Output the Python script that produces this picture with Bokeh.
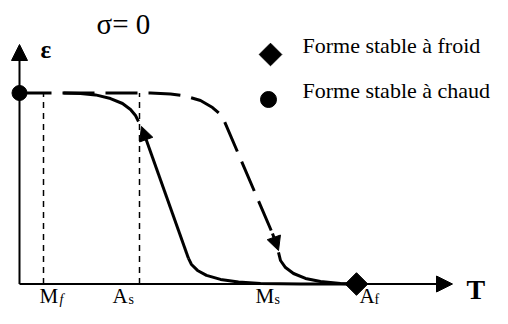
import numpy as np
from bokeh.plotting import figure
from bokeh.models import Range1d, Arrow, NormalHead, ColumnDataSource
from bokeh.core.properties import value
from bokeh.embed import file_html
from bokeh.resources import INLINE

# ---------------- data (T in arbitrary units, strain normalised) ----------------
temp_names = ["M", "A", "M", "A"]
temp_subs = ["f", "s", "s", "f"]
temp_values = [24, 120, 229, 337]
eps_top = 1.0

heat_upper_T = [44, 61, 76, 91, 103, 111, 116, 119]
heat_upper_eps = [1.0, 0.997, 0.990, 0.971, 0.945, 0.914, 0.882, 0.851]
heat_arrow_T = [169, 122]
heat_arrow_eps = [0.134, 0.825]
heat_lower_T = [169, 172, 178, 187, 201, 219, 241, 281, 337]
heat_lower_eps = [0.134, 0.102, 0.071, 0.045, 0.024, 0.011, 0.003, 0.0, 0.0]

cool_T = [0, 131, 151, 166, 181, 193, 201, 205, 253]
cool_eps = [1.0, 1.0, 0.995, 0.984, 0.961, 0.924, 0.887, 0.851, 0.264]
cool_arrow_T = [253, 259]
cool_arrow_eps = [0.264, 0.175]
cool_lower_T = [259, 261, 266, 274, 286, 301, 321, 337]
cool_lower_eps = [0.165, 0.123, 0.086, 0.055, 0.029, 0.013, 0.003, 0.0]

axis_T_end = 433
axis_eps_end = 1.254

legend_labels = ["Forme stable à froid", "Forme stable à chaud"]

# ---------------- layout helpers (pixel -> data) ----------------
def tx(X):
    return X - 19

def ey(Y):
    return (283.5 - Y) / 191.0

def mid(baseline, fs):
    # vertical middle of the text box for a given alphabetic baseline
    return ey(baseline - 0.3375 * fs)

FONT = value("Liberation Serif")

p = figure(width=492, height=308,
           x_range=Range1d(tx(0), tx(492)), y_range=Range1d(ey(308), ey(0)),
           x_axis_type=None, y_axis_type=None,
           output_backend="svg", toolbar_location=None, min_border=0)
p.grid.visible = False
p.outline_line_color = None
p.background_fill_color = "white"
p.border_fill_color = "white"

# axes with arrows
p.add_layout(Arrow(end=NormalHead(size=16, fill_color="black", line_color="black", line_width=1),
                   x_start=0, y_start=0, x_end=axis_T_end, y_end=0,
                   line_width=2, line_color="black"))
p.add_layout(Arrow(end=NormalHead(size=16, fill_color="black", line_color="black", line_width=1),
                   x_start=0, y_start=0, x_end=0, y_end=axis_eps_end,
                   line_width=2, line_color="black"))

# dashed verticals at Mf and As
p.segment(x0=temp_values[:2], y0=[0, 0], x1=temp_values[:2], y1=[eps_top, eps_top],
          line_color="black", line_width=1.5, line_dash="6 5")

# cooling (dashed) branch
p.line(cool_T, cool_eps, line_color="black", line_width=3, line_dash="32 11")
p.add_layout(Arrow(end=NormalHead(size=14, fill_color="black", line_color="black", line_width=1),
                   x_start=cool_arrow_T[0], y_start=cool_arrow_eps[0],
                   x_end=cool_arrow_T[1], y_end=cool_arrow_eps[1],
                   line_width=3, line_color="black"))
p.line(cool_lower_T, cool_lower_eps, line_color="black", line_width=3)

# heating (solid) branch
p.line(heat_upper_T, heat_upper_eps, line_color="black", line_width=3)
p.add_layout(Arrow(end=NormalHead(size=14, fill_color="black", line_color="black", line_width=1),
                   x_start=heat_arrow_T[0], y_start=heat_arrow_eps[0],
                   x_end=heat_arrow_T[1], y_end=heat_arrow_eps[1],
                   line_width=3, line_color="black"))
p.line(heat_lower_T, heat_lower_eps, line_color="black", line_width=3)

# stable forms
p.scatter(x=[0], y=[eps_top], marker="circle", size=15, color="black")
p.scatter(x=[temp_values[3]], y=[0], marker="square", size=16, angle=np.pi / 4, color="black")

# legend
p.scatter(x=[tx(270)], y=[ey(54)], marker="square", size=16, angle=np.pi / 4, color="black")
p.scatter(x=[tx(268)], y=[ey(99)], marker="circle", size=16, color="black")
p.text(x=[tx(302), tx(302)], y=[mid(52, 22), mid(97, 22)], text=legend_labels,
       text_font=FONT, text_font_size=value("22px"), text_color="black",
       text_align="left", text_baseline="middle")

# titles
p.text(x=[tx(96)], y=[mid(33, 29)], text=["σ= 0"], text_font=FONT, text_font_size=value("29px"),
       text_align="left", text_baseline="middle", text_color="black")
p.text(x=[tx(40)], y=[mid(57, 25)], text=["ε"], text_font=FONT, text_font_size=value("25px"),
       text_font_style="bold", text_align="left", text_baseline="middle", text_color="black")
p.text(x=[tx(466)], y=[mid(298, 28)], text=["T"], text_font=FONT, text_font_size=value("28px"),
       text_font_style="bold", text_align="left", text_baseline="middle", text_color="black")

# temperature labels
base_dx = [-4, -27, 7, 3]
sub_dx = [16, -11, 26, 18]
src_base = ColumnDataSource(dict(x=[v + d for v, d in zip(temp_values, base_dx)],
                                 y=[mid(303, 21)] * 4, t=temp_names))
src_sub = ColumnDataSource(dict(x=[v + d for v, d in zip(temp_values, sub_dx)],
                                y=[mid(304, 14)] * 4, t=temp_subs,
                                st=["italic", "normal", "normal", "normal"]))
p.text(x="x", y="y", text="t", source=src_base, text_font=FONT, text_font_size=value("21px"),
       text_align="left", text_baseline="middle", text_color="black")
p.text(x="x", y="y", text="t", source=src_sub, text_font=FONT, text_font_size=value("14px"),
       text_font_style="st", text_align="left", text_baseline="middle", text_color="black")

open("out.html", "w").write(file_html(p, INLINE))
